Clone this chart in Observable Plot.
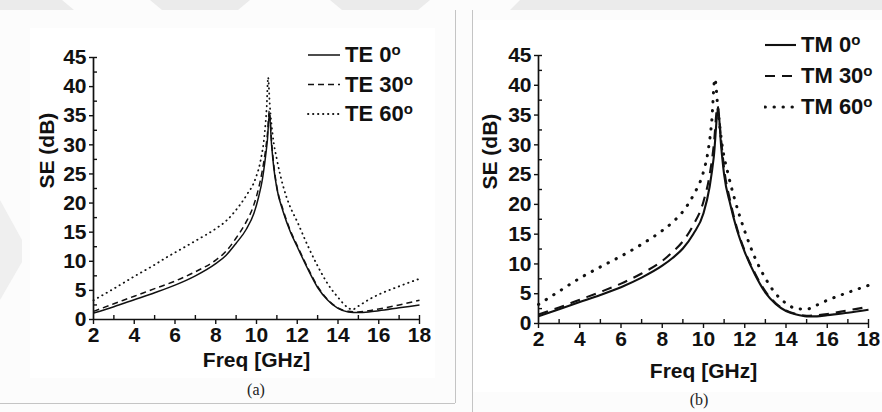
<!DOCTYPE html>
<html>
<head>
<meta charset="utf-8">
<script src="https://cdn.jsdelivr.net/npm/d3@7"></script>
<script src="https://cdn.jsdelivr.net/npm/@observablehq/plot@0.6"></script>
<style>
  html, body { margin: 0; padding: 0; background: #ffffff; }
  #page { position: relative; width: 882px; height: 412px; overflow: hidden; background: #fcfcfc; font-family: "Liberation Sans", Arial, sans-serif; }
  .abs { position: absolute; }
  .cap { position: absolute; font-family: "Liberation Serif", "Times New Roman", serif; font-size: 16px; color: #222; transform: translate(-50%, -50%); }
</style>
</head>
<body>
<div id="page">
  <svg class="abs" style="left:0;top:0" width="882" height="412">
    <polygon points="0,0 62,0 74,10 0,10" fill="#ebebeb"/>
    <polygon points="150,0 250,0 238,10 162,10" fill="#ebebeb"/>
    <polygon points="330,0 430,0 418,10 342,10" fill="#ebebeb"/>
    <polygon points="520,0 882,0 882,10 510,10" fill="#ebebeb"/>
    <polygon points="0,200 22,240 22,262 0,300" fill="#efefef"/>
    <line x1="455.5" y1="10" x2="455.5" y2="403" stroke="#c4c4c4" stroke-width="1"/>
    <line x1="0" y1="403.5" x2="455" y2="403.5" stroke="#c4c4c4" stroke-width="1"/>
    <line x1="472.5" y1="10" x2="472.5" y2="412" stroke="#c4c4c4" stroke-width="1"/>
  </svg>
  <div id="pa" class="abs" style="left:30px;top:28px"></div>
  <div id="pb" class="abs" style="left:473px;top:20px"></div>
  <div class="cap" style="left:256px;top:390px">(a)</div>
  <div class="cap" style="left:699px;top:400px">(b)</div>
</div>
<script>
// ---------- data ----------
const xTicks = [2, 4, 6, 8, 10, 12, 14, 16, 18];
const xMinor = [3, 5, 7, 9, 11, 13, 15, 17];
const yTicks = [0, 5, 10, 15, 20, 25, 30, 35, 40, 45];
const yMinor = [2.5, 7.5, 12.5, 17.5, 22.5, 27.5, 32.5, 37.5, 42.5];

const teLabels = ["TE 0", "TE 30", "TE 60"];
const tmLabels = ["TM 0", "TM 30", "TM 60"];

// (a) TE
const te0F  = [2, 3, 4, 5, 6, 7, 8, 8.5, 9, 9.5, 9.87, 10.1, 10.28, 10.44, 10.54, 10.63, 10.74, 10.85, 11, 11.3, 11.67, 12, 12.5, 13, 13.5, 14, 14.5, 15, 15.5, 16, 17, 18];
const te0   = [1.1, 2.2, 3.4, 4.6, 5.9, 7.5, 9.6, 11.0, 13.1, 15.5, 18.2, 21.0, 23.9, 27.9, 31.0, 35.4, 30.0, 26.0, 22.5, 18.6, 15.0, 12.5, 8.8, 5.5, 3.3, 1.9, 1.3, 1.2, 1.3, 1.5, 2.0, 2.5];
const te30F = [2, 3, 4, 5, 6, 7, 8, 8.5, 9, 9.5, 9.85, 10.1, 10.28, 10.44, 10.54, 10.63, 10.74, 10.85, 11, 11.3, 11.67, 12, 12.5, 13, 13.5, 14, 14.5, 15, 15.5, 16, 17, 18];
const te30  = [1.4, 2.7, 4.0, 5.3, 6.6, 8.2, 10.2, 11.7, 14.0, 16.8, 19.5, 22.5, 25.5, 29.0, 32.0, 35.8, 30.5, 26.5, 22.8, 18.9, 15.2, 12.7, 9.0, 5.7, 3.4, 2.0, 1.4, 1.3, 1.5, 1.8, 2.5, 3.3];
const te60F = [2, 3, 4, 5, 5.6, 6, 7, 8, 8.5, 8.9, 9.5, 9.95, 10.2, 10.4, 10.5, 10.57, 10.65, 10.8, 11, 11.3, 11.6, 12, 12.5, 13, 13.5, 14, 14.5, 14.7, 15, 15.5, 16, 17, 18];
const te60  = [3.3, 5.3, 7.4, 9.4, 10.7, 11.5, 13.5, 15.6, 16.9, 18.4, 21.3, 24.2, 27.3, 32.0, 36.5, 41.6, 37.0, 31.5, 27.5, 23.0, 19.8, 16.8, 12.8, 9.2, 6.1, 3.8, 2.0, 1.7, 2.3, 3.4, 4.3, 5.7, 7.0];

// (b) TM
const tm0F  = [2, 3, 4, 5, 6, 7, 8, 8.5, 9, 9.5, 10, 10.3, 10.5, 10.71, 10.85, 11, 11.3, 11.6, 12, 12.5, 13, 13.5, 14, 14.5, 15, 15.5, 16, 17, 18];
const tm0   = [1.2, 2.4, 3.6, 4.8, 6.1, 7.7, 9.7, 11.0, 12.6, 15.0, 18.5, 23.0, 28.0, 36.0, 30.0, 25.0, 20.0, 16.0, 12.0, 8.2, 5.2, 3.3, 2.1, 1.5, 1.2, 1.2, 1.4, 1.8, 2.3];
const tm30F = [2, 3, 4, 5, 6, 7, 8, 8.5, 9, 9.5, 10, 10.3, 10.5, 10.68, 10.85, 11, 11.3, 11.6, 12, 12.5, 13, 13.5, 14, 14.5, 15, 15.5, 16, 17, 18];
const tm30  = [1.5, 2.7, 4.0, 5.3, 6.7, 8.4, 10.5, 12.0, 13.8, 16.5, 20.5, 25.0, 30.0, 36.5, 31.0, 26.0, 20.5, 16.3, 12.2, 8.4, 5.4, 3.4, 2.2, 1.6, 1.3, 1.4, 1.6, 2.2, 2.8];
const tm60F = [2, 3, 4, 5, 6, 7, 8, 8.5, 9, 9.5, 10, 10.2, 10.4, 10.55, 10.7, 10.9, 11.2, 11.5, 12, 12.5, 13, 13.5, 14, 14.5, 15, 15.5, 16, 17, 18];
const tm60  = [3.2, 5.4, 7.6, 9.5, 11.3, 13.3, 15.6, 17.0, 18.8, 21.5, 25.5, 28.5, 34.0, 41.1, 36.0, 30.0, 25.0, 21.0, 15.5, 11.0, 7.6, 5.0, 3.4, 2.5, 2.4, 3.1, 3.9, 5.2, 6.4];

// ---------- drawing ----------
const rows = (f, v) => f.map((x, i) => ({f: x, v: v[i]}));
const FONT = "'Liberation Sans', Arial, sans-serif";
const INK = "#111";
const FS = 21;

function panel(cfg) {
  const lineMarks = cfg.series.map((s, i) =>
    Plot.line(rows(s.f, s.v), {
      x: "f", y: "v", curve: "monotone-x", stroke: INK,
      strokeWidth: cfg.styles[i].w, strokeDasharray: cfg.styles[i].dash,
      strokeLinecap: cfg.styles[i].cap || "butt"
    })
  );
  return Plot.plot({
    width: cfg.width, height: cfg.height,
    marginLeft: cfg.ml, marginRight: cfg.mr, marginTop: cfg.mt, marginBottom: cfg.mb,
    style: {background: "white", fontFamily: FONT, color: INK, overflow: "visible"},
    x: {domain: [2, 18]},
    y: {domain: [0, 45]},
    marks: [
      Plot.axisX(xTicks, {tickSize: 5, tickPadding: 3, fontSize: FS, fontWeight: "bold", label: null, strokeWidth: 1.4}),
      Plot.axisX(xMinor.concat([18]), {tickSize: -4, fill: "none", label: null, strokeWidth: 1.4}),
      Plot.axisY(yTicks, {tickSize: 4, tickPadding: 3, fontSize: FS, fontWeight: "bold", label: null, strokeWidth: 1.4}),
      Plot.axisY(yMinor.concat([45]), {tickSize: -4, fill: "none", label: null, strokeWidth: 1.4}),
      Plot.ruleX([2], {strokeWidth: 1.7, stroke: INK}),
      Plot.ruleY([0], {strokeWidth: 1.7, stroke: INK}),
      ...lineMarks,
      Plot.text(["Freq [GHz]"], {frameAnchor: "bottom", dy: cfg.xlabDy, fontSize: FS, fontWeight: "bold", fill: INK}),
      Plot.text(["SE (dB)"], {frameAnchor: "left", rotate: -90, dx: cfg.ylabDx, fontSize: FS, fontWeight: "bold", fill: INK})
    ]
  });
}

function legend(labels, styles, opt) {
  const ns = "http://www.w3.org/2000/svg";
  const svg = document.createElementNS(ns, "svg");
  svg.setAttribute("width", opt.w); svg.setAttribute("height", opt.h);
  svg.style.position = "absolute"; svg.style.left = opt.left + "px"; svg.style.top = opt.top + "px";
  labels.forEach((lab, i) => {
    const y = opt.y0 + i * opt.step;
    const ln = document.createElementNS(ns, "line");
    ln.setAttribute("x1", 1); ln.setAttribute("x2", opt.len);
    ln.setAttribute("y1", y + 2); ln.setAttribute("y2", y + 2);
    ln.setAttribute("stroke", INK); ln.setAttribute("stroke-width", styles[i].w);
    if (styles[i].dash) ln.setAttribute("stroke-dasharray", styles[i].dash);
    if (styles[i].cap) ln.setAttribute("stroke-linecap", styles[i].cap);
    svg.appendChild(ln);
    const t = document.createElementNS(ns, "text");
    t.setAttribute("x", opt.len + opt.gap); t.setAttribute("y", y + 9);
    t.setAttribute("font-family", FONT); t.setAttribute("font-size", 22);
    t.setAttribute("font-weight", "bold"); t.setAttribute("fill", INK);
    t.textContent = lab;
    const sup = document.createElementNS(ns, "tspan");
    sup.setAttribute("font-size", 15); sup.setAttribute("dy", -7);
    sup.textContent = "o";
    t.appendChild(sup);
    svg.appendChild(t);
  });
  document.getElementById("page").appendChild(svg);
}

const stylesA = [{w: 1.5, dash: null}, {w: 1.5, dash: "6,4"}, {w: 1.8, dash: "0.4,4.6", cap: "round"}];
const stylesB = [{w: 2.1, dash: null}, {w: 2.1, dash: "10,7"}, {w: 3, dash: "0.4,8.6", cap: "round"}];

document.getElementById("pa").appendChild(panel({
  width: 405, height: 350, ml: 63, mr: 16, mt: 29, mb: 59,
  xlabDy: 47, ylabDx: -46,
  series: [{f: te0F, v: te0}, {f: te30F, v: te30}, {f: te60F, v: te60}],
  styles: stylesA
}));
document.getElementById("pb").appendChild(panel({
  width: 409, height: 372, ml: 65, mr: 14, mt: 35, mb: 69,
  xlabDy: 54, ylabDx: -48,
  series: [{f: tm0F, v: tm0}, {f: tm30F, v: tm30}, {f: tm60F, v: tm60}],
  styles: stylesB
}));

legend(teLabels, stylesA, {left: 307, top: 40, w: 130, h: 95, len: 33, gap: 5, y0: 13, step: 29.5});
legend(tmLabels, stylesB, {left: 764, top: 30, w: 118, h: 95, len: 32, gap: 5, y0: 13, step: 31});
</script>
</body>
</html>
